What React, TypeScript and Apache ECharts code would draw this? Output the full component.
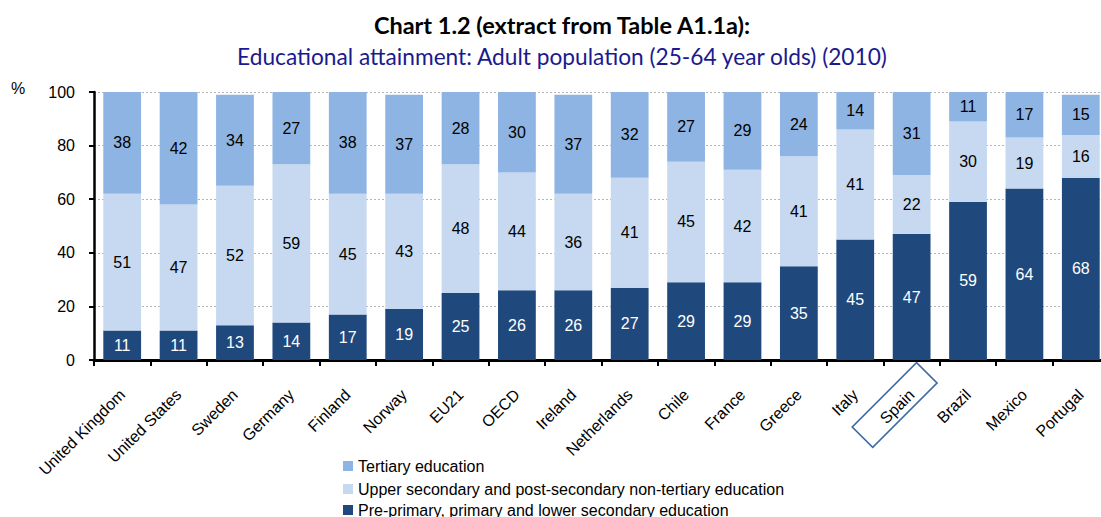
import React, { useEffect, useRef } from "react";
import * as echarts from "echarts";

const categories = [
  "United Kingdom", "United States", "Sweden", "Germany", "Finland", "Norway",
  "EU21", "OECD", "Ireland", "Netherlands", "Chile", "France", "Greece",
  "Italy", "Spain", "Brazil", "Mexico", "Portugal",
];
const prePrimary = [11, 11, 13, 14, 17, 19, 25, 26, 26, 27, 29, 29, 35, 45, 47, 59, 64, 68];
const upperSecondary = [51, 47, 52, 59, 45, 43, 48, 44, 36, 41, 45, 42, 41, 41, 22, 30, 19, 16];
const tertiary = [38, 42, 34, 27, 38, 37, 28, 30, 37, 32, 27, 29, 24, 14, 31, 11, 17, 15];
const yTicks = [0, 20, 40, 60, 80, 100];

const NAME_TERT = "Tertiary education";
const NAME_UPPER = "Upper secondary and post-secondary non-tertiary education";
const NAME_PRE = "Pre-primary, primary and lower secondary education";
const HIGHLIGHT = "Spain";

const FONT = "'Liberation Sans', Arial, sans-serif";
const TITLE_FONT = "Lato, 'Open Sans', sans-serif";

export default function App() {
  const ref = useRef<HTMLDivElement>(null);
  useEffect(() => {
    if (!ref.current) return;
    const chart = echarts.init(ref.current, null, { renderer: "svg" });
    const labelBase = {
      show: true,
      position: "inside",
      fontSize: 16,
      fontFamily: FONT,
      formatter: "{c}",
    };
    const legendBase = {
      orient: "vertical",
      left: 343,
      padding: 0,
      itemWidth: 10,
      itemHeight: 10,
      icon: "rect",
      textStyle: { fontSize: 16, fontFamily: FONT, color: "#000" },
    };
    chart.setOption({
      animation: false,
      backgroundColor: "#ffffff",
      title: {
        text: "Chart 1.2 (extract from Table A1.1a):",
        subtext: "Educational attainment: Adult population (25-64 year olds) (2010)",
        left: 557,
        textAlign: "center",
        top: 8,
        itemGap: 8,
        textStyle: { fontFamily: TITLE_FONT, fontWeight: "bold", fontSize: 23.5, color: "#000000" },
        subtextStyle: { fontFamily: TITLE_FONT, fontSize: 22.7, color: "#1a1a8e" },
      },
      legend: [
        { ...legendBase, top: 458, data: [NAME_TERT] },
        { ...legendBase, top: 481, data: [NAME_UPPER] },
        { ...legendBase, top: 502, data: [NAME_PRE] },
      ],
      grid: { left: 94, top: 92, height: 268, width: 1015, containLabel: false },
      xAxis: {
        type: "category",
        data: categories,
        axisLine: { show: true, lineStyle: { color: "#000", width: 3 } },
        axisTick: { show: true, length: 6, lineStyle: { color: "#000", width: 2 } },
        axisLabel: {
          interval: 0,
          rotate: 45,
          margin: 32,
          fontSize: 16,
          fontFamily: FONT,
          color: "#000",
        },
      },
      yAxis: {
        type: "value",
        min: yTicks[0],
        max: yTicks[yTicks.length - 1],
        interval: 20,
        axisLine: { show: true, lineStyle: { color: "#000", width: 2.5 } },
        axisTick: { show: true, length: 5, lineStyle: { color: "#000", width: 2 } },
        axisLabel: { margin: 19, fontSize: 16, fontFamily: FONT, color: "#000" },
        splitLine: { show: true, lineStyle: { color: "#b5b5b5", type: [2, 2], width: 1 } },
      },
      series: [
        {
          name: NAME_PRE,
          type: "bar",
          stack: "all",
          barWidth: "67%",
          data: prePrimary,
          itemStyle: { color: "#1f497d" },
          label: { ...labelBase, color: "#ffffff" },
        },
        {
          name: NAME_UPPER,
          type: "bar",
          stack: "all",
          data: upperSecondary,
          itemStyle: { color: "#c6d9f1" },
          label: { ...labelBase, color: "#000000" },
        },
        {
          name: NAME_TERT,
          type: "bar",
          stack: "all",
          data: tertiary,
          itemStyle: { color: "#8eb4e3" },
          label: { ...labelBase, color: "#000000" },
        },
      ],
    });

    // Highlight box around the Spain category label, placed from the axis scale
    const [cx, axisY] = chart.convertToPixel({ gridIndex: 0 }, [HIGHLIGHT, 0]) as number[];
    chart.setOption({
      graphic: [
        {
          type: "text",
          left: 11,
          top: 80,
          style: { text: "%", fontSize: 16, fontFamily: FONT, fill: "#000" },
        },
        {
          type: "rect",
          x: cx - 17,
          y: axisY + 45,
          rotation: Math.PI / 4,
          shape: { x: -45.5, y: -14.5, width: 91, height: 29 },
          style: { fill: "none", stroke: "#3d6aa3", lineWidth: 1.6 },
          silent: true,
        },
      ],
    });
    return () => chart.dispose();
  }, []);
  return (
    <div style={{ position: "absolute", left: 0, top: 0, width: 1101, height: 517, overflow: "hidden" }}>
      <div ref={ref} style={{ width: 1112, height: 517 }} />
    </div>
  );
}
